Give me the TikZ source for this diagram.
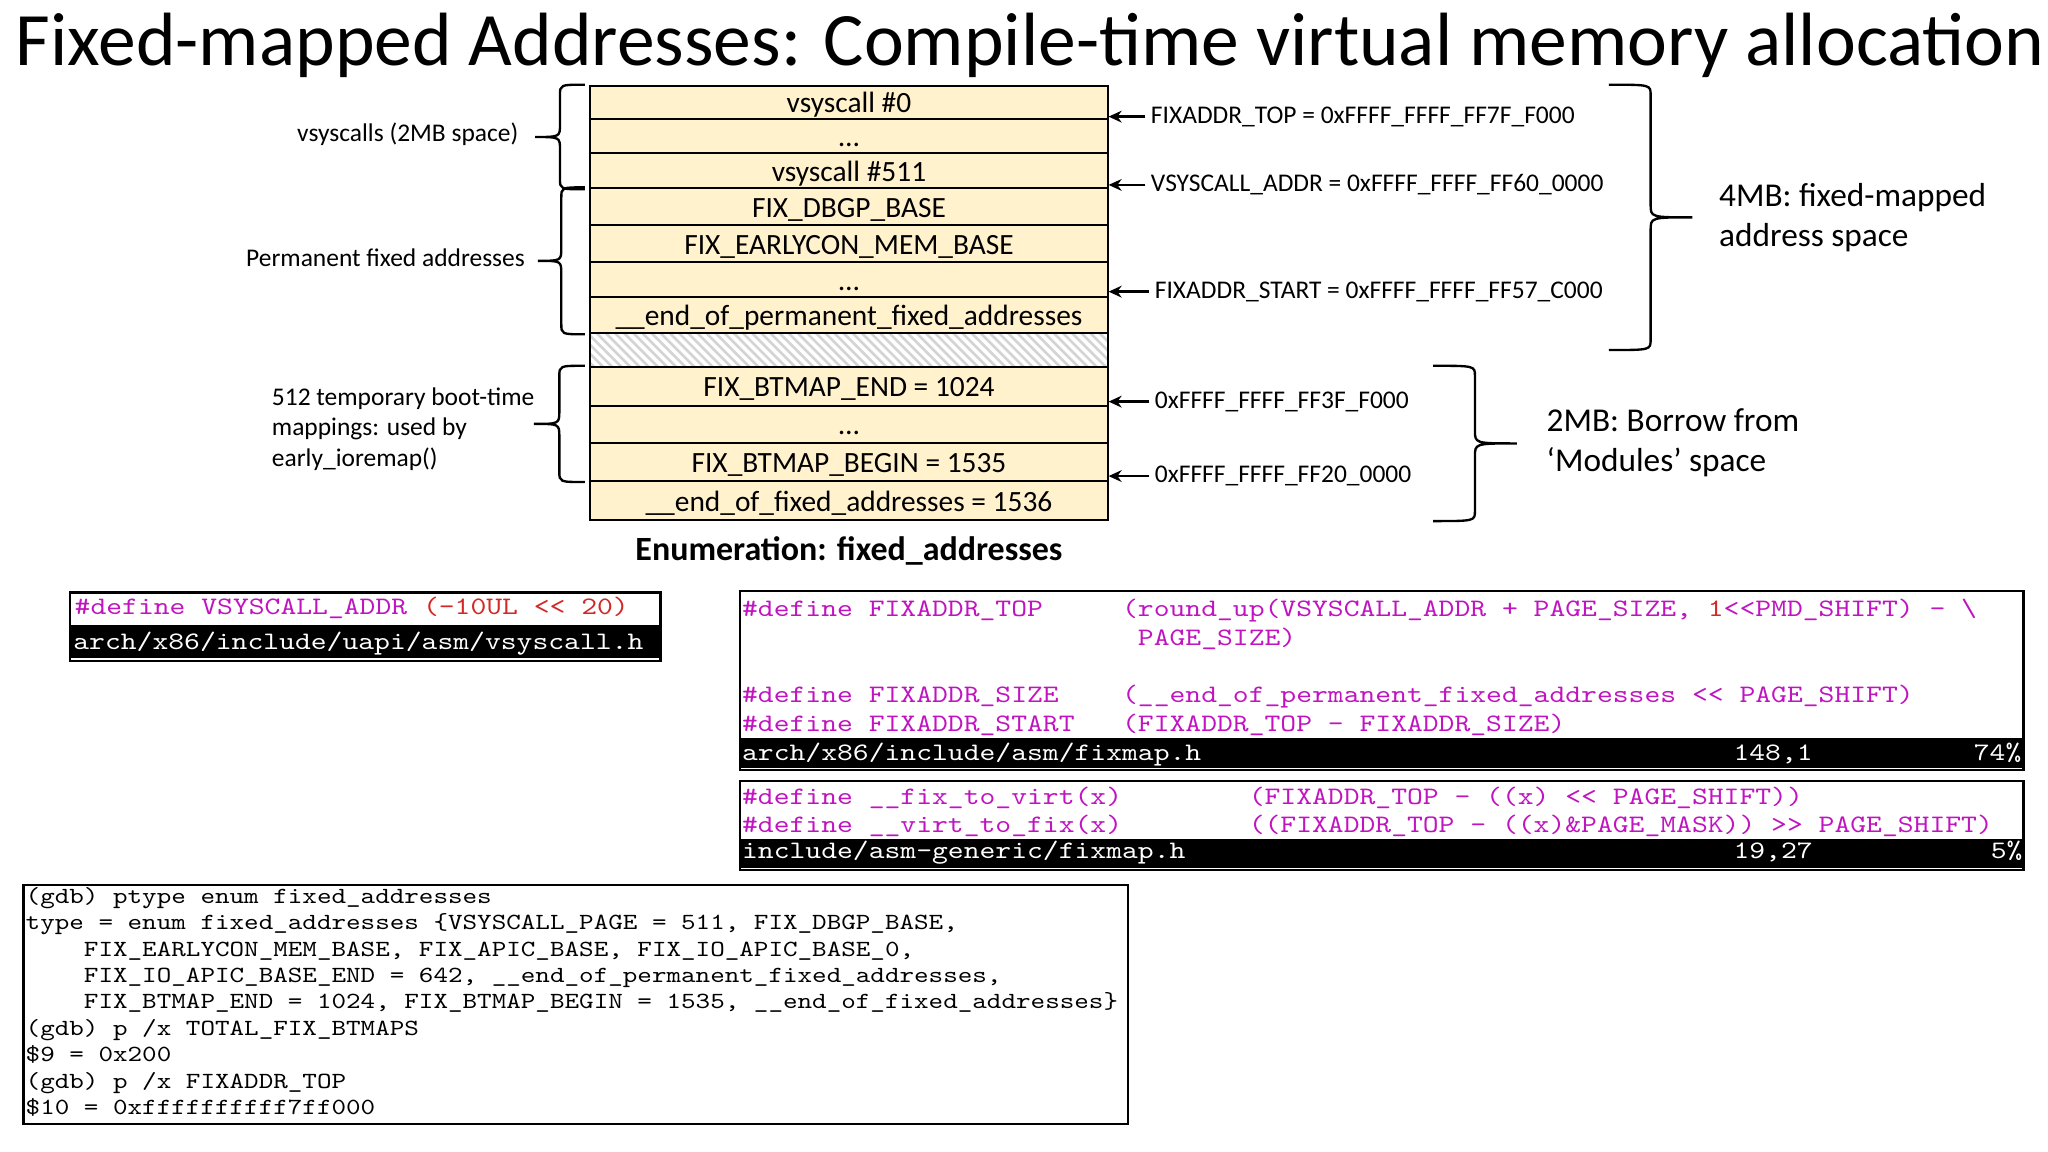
\documentclass[tikz,border=0pt]{standalone}
\usepackage{fontspec}
\setmainfont{Carlito}
\newfontfamily\codefont[FakeStretch=1.2]{lmmono10-regular.otf}
\usetikzlibrary{arrows.meta,calc,positioning}

\definecolor{slotfill}{RGB}{255,242,204}
\definecolor{cppmag}{RGB}{192,20,192}
\definecolor{cppred}{RGB}{210,40,40}
\definecolor{hatchgray}{RGB}{212,212,212}

% blank columns in monospaced code
\newcommand{\codepad}[1]{\hspace*{#1\fontcharwd\font`0}}

\tikzset{
  slot/.style={draw, line width=1.5pt, fill=slotfill, minimum width=396pt, inner sep=0pt,
    text height=18.5pt, text depth=2.5pt, font=\fontsize{22.5}{27}\selectfont},
  lbl/.style={inner sep=0pt, font=\fontsize{19.5}{23.6}\selectfont},
  biglbl/.style={inner sep=0pt, align=left, anchor=base west, font=\fontsize{25.5}{30.7}\selectfont},
  addr/.style={anchor=west, inner sep=4pt, text height=14pt, text depth=4pt, font=\fontsize{19.5}{23.6}\selectfont},
  ptr/.style={-{Stealth[length=10pt,width=9pt]}, line width=2pt},
  curly/.style={line width=1.8pt, to path={let \p1=(\tikztostart), \p2=(\tikztotarget), \p3=($(\p1)!0.5!(\p2)$) in
    (\p1) .. controls ({\x1+0.5*(#1)},\y1) .. ({\x1+0.5*(#1)},{\y1-8}) -- ({\x1+0.5*(#1)},{\y3+10})
    .. controls ({\x1+0.5*(#1)},\y3) .. ({\x1+#1},\y3)
    .. controls ({\x1+0.5*(#1)},\y3) .. ({\x1+0.5*(#1)},{\y3-10}) -- ({\x1+0.5*(#1)},{\y2+8})
    .. controls ({\x1+0.5*(#1)},\y2) .. (\p2)}},
  panel/.style={draw, line width=2pt},
  srcline/.style={inner sep=0pt, anchor=base west, text=cppmag, font=\fontsize{19.24}{22}\codefont},
  barline/.style={inner sep=0pt, anchor=base west, text=white, font=\fontsize{19.24}{22}\codefont},
  gdbline/.style={inner sep=0pt, anchor=base west, font=\fontsize{17.7}{20.2}\codefont},
}

\begin{document}
\begin{tikzpicture}[x=1pt,y=-1pt]
  \useasboundingbox (0,0) rectangle (1568,882);

  % Title
  \node[anchor=base west, inner sep=0pt, font=\fontsize{57.8}{60}\selectfont] (title) at (12,50)
    {Fixed-mapped Addresses: Compile-time virtual memory allocation};

  % The enum slots, top to bottom
  \foreach \n/\ya/\yb/\txt in {r1/65.6/91.4/{vsyscall \#0}, r2/91.4/117.4/{\ldots},
      r3/117.4/144.2/{vsyscall \#511}, r4/144.2/172.5/{FIX\_DBGP\_BASE},
      r5/172.5/200.9/{FIX\_EARLYCON\_MEM\_BASE}, r6/200.9/227.2/{\ldots},
      r7/227.2/255.2/{\_\_end\_of\_permanent\_fixed\_addresses},
      r9/280.8/310.9/{FIX\_BTMAP\_END = 1024}, r10/310.9/339/{\ldots},
      r11/339/368.3/{FIX\_BTMAP\_BEGIN = 1535}, r12/368.3/398.2/{\_\_end\_of\_fixed\_addresses = 1536}} {
    \node[slot, minimum height={\yb-\ya}] (\n) at (650,{(\ya+\yb)/2}) {\txt};
  }

  % Unused gap between the two groups
  \node[slot, fill=white, minimum height=25.6, path picture={
      \foreach \k in {0,7,...,430}
        \draw[hatchgray, line width=2pt] ([xshift={\k-30}]path picture bounding box.north west) -- ++(30,30);
    }] (r8) at (650,268) {};

  \node[anchor=base, inner sep=0pt, font=\fontsize{26}{30}\bfseries] (caption) at (650,428.8)
    {Enumeration: fixed\_addresses};

  % Braces on the left
  \draw[curly=-38] ([xshift=-3.5pt]r1.north west) to ([xshift=-3.5pt]r3.south west);
  \draw[curly=-36] ([xshift=-3.5pt]r4.north west) to ([xshift=-3.5pt]r7.south west);
  \draw[curly=-39] ([xshift=-3.5pt]r9.north west) to ([xshift=-3.5pt]r11.south west);
  \node[lbl, anchor=base east] (vsys) at (397,108.5) {vsyscalls (2MB space)};
  \node[lbl, anchor=base east] (perm) at (402,204.2) {Permanent fixed addresses};
  \node[lbl, align=left, anchor=base west] (btmap) at (208,357.3)
    {512 temporary boot-time\\mappings: used by\\early\_ioremap()};

  % Addresses on the right
  \node[addr] (fxtop) at (877,89.3) {FIXADDR\_TOP = 0xFFFF\_FFFF\_FF7F\_F000};
  \node[addr] (vsaddr) at (877,141.6) {VSYSCALL\_ADDR = 0xFFFF\_FFFF\_FF60\_0000};
  \node[addr] (fxstart) at (880,223.3) {FIXADDR\_START = 0xFFFF\_FFFF\_FF57\_C000};
  \node[addr] (btend) at (880,307.5) {0xFFFF\_FFFF\_FF3F\_F000};
  \node[addr] (btbegin) at (880,364.5) {0xFFFF\_FFFF\_FF20\_0000};
  \foreach \a/\r in {fxtop/r1, vsaddr/r3, fxstart/r6, btend/r9, btbegin/r11}
    \draw[ptr] (\a.west) -- (\a.west -| \r.east);

  % Braces on the right
  \draw[curly=64] ([xshift=383pt]r1.north east) to ([xshift=383pt]r8.east);
  \draw[curly=64] ([xshift=248.5pt]r9.north east) to ([xshift=248.5pt]r12.south east);
  \node[biglbl] (fourmb) at (1316,188.9) {4MB: fixed-mapped\\address space};
  \node[biglbl] (twomb) at (1184,361.2) {2MB: Borrow from\\`Modules' space};

  % arch/x86/include/uapi/asm/vsyscall.h
  \draw[panel] (53.5,453.8) rectangle (505.7,506.1);
  \fill (53.5,478.5) rectangle (505.7,504.1);
  \node[srcline] (vsysdef) at (57,470.5) {\#define VSYSCALL\_ADDR {\color{cppred}(-10UL << 20)}};
  \node[barline] (vsysfile) at (56,497) {arch/x86/include/uapi/asm/vsyscall.h};

  % arch/x86/include/asm/fixmap.h
  \draw[panel] (566.7,452.5) rectangle (1549,589.6);
  \fill (566.7,565.3) rectangle (1549,588.3);
  \node[srcline] (topdef) at (568,471.7)
    {\#define FIXADDR\_TOP\codepad{5}(round\_up(VSYSCALL\_ADDR + PAGE\_SIZE, {\color{cppred}1}<<PMD\_SHIFT) - \textbackslash};
  \node[srcline] (topcont) at (568,493.9) {\codepad{25}PAGE\_SIZE)};
  \node[srcline] (sizedef) at (568,538)
    {\#define FIXADDR\_SIZE\codepad{4}(\_\_end\_of\_permanent\_fixed\_addresses << PAGE\_SHIFT)};
  \node[srcline] (startdef) at (568,560.2) {\#define FIXADDR\_START\codepad{3}(FIXADDR\_TOP - FIXADDR\_SIZE)};
  \node[barline] (fixfile) at (568,582) {arch/x86/include/asm/fixmap.h};
  \node[barline] (fixpos) at (1327,582) {148,1};
  \node[barline] (fixpct) at (1511,582) {74\%};

  % include/asm-generic/fixmap.h
  \draw[panel] (566.7,598) rectangle (1549,666.2);
  \fill (566.7,642.7) rectangle (1549,664.9);
  \node[srcline] (virtdef) at (568,615.6)
    {\#define \_\_fix\_to\_virt(x)\codepad{8}(FIXADDR\_TOP - ((x) << PAGE\_SHIFT))};
  \node[srcline] (fixdef) at (568,637.3)
    {\#define \_\_virt\_to\_fix(x)\codepad{8}((FIXADDR\_TOP - ((x)\&PAGE\_MASK)) >> PAGE\_SHIFT)};
  \node[barline] (genfile) at (568,657.2) {include/asm-generic/fixmap.h};
  \node[barline] (genpos) at (1327,657.2) {19,27};
  \node[barline] (genpct) at (1524,657.2) {5\%};

  % gdb session
  \draw[panel] (18,677.6) rectangle (863.7,860.6);
  \foreach \t [count=\i] in {{(gdb) ptype enum fixed\_addresses},
      {type = enum fixed\_addresses \{VSYSCALL\_PAGE = 511, FIX\_DBGP\_BASE,},
      {\codepad{4}FIX\_EARLYCON\_MEM\_BASE, FIX\_APIC\_BASE, FIX\_IO\_APIC\_BASE\_0,},
      {\codepad{4}FIX\_IO\_APIC\_BASE\_END = 642, \_\_end\_of\_permanent\_fixed\_addresses,},
      {\codepad{4}FIX\_BTMAP\_END = 1024, FIX\_BTMAP\_BEGIN = 1535, \_\_end\_of\_fixed\_addresses\}},
      {(gdb) p /x TOTAL\_FIX\_BTMAPS}, {\$9 = 0x200}, {(gdb) p /x FIXADDR\_TOP},
      {\$10 = 0xffffffffff7ff000}}
    \node[gdbline] (gdb\i) at (19.5,{671.5+20.2*\i}) {\t};
\end{tikzpicture}
\end{document}
